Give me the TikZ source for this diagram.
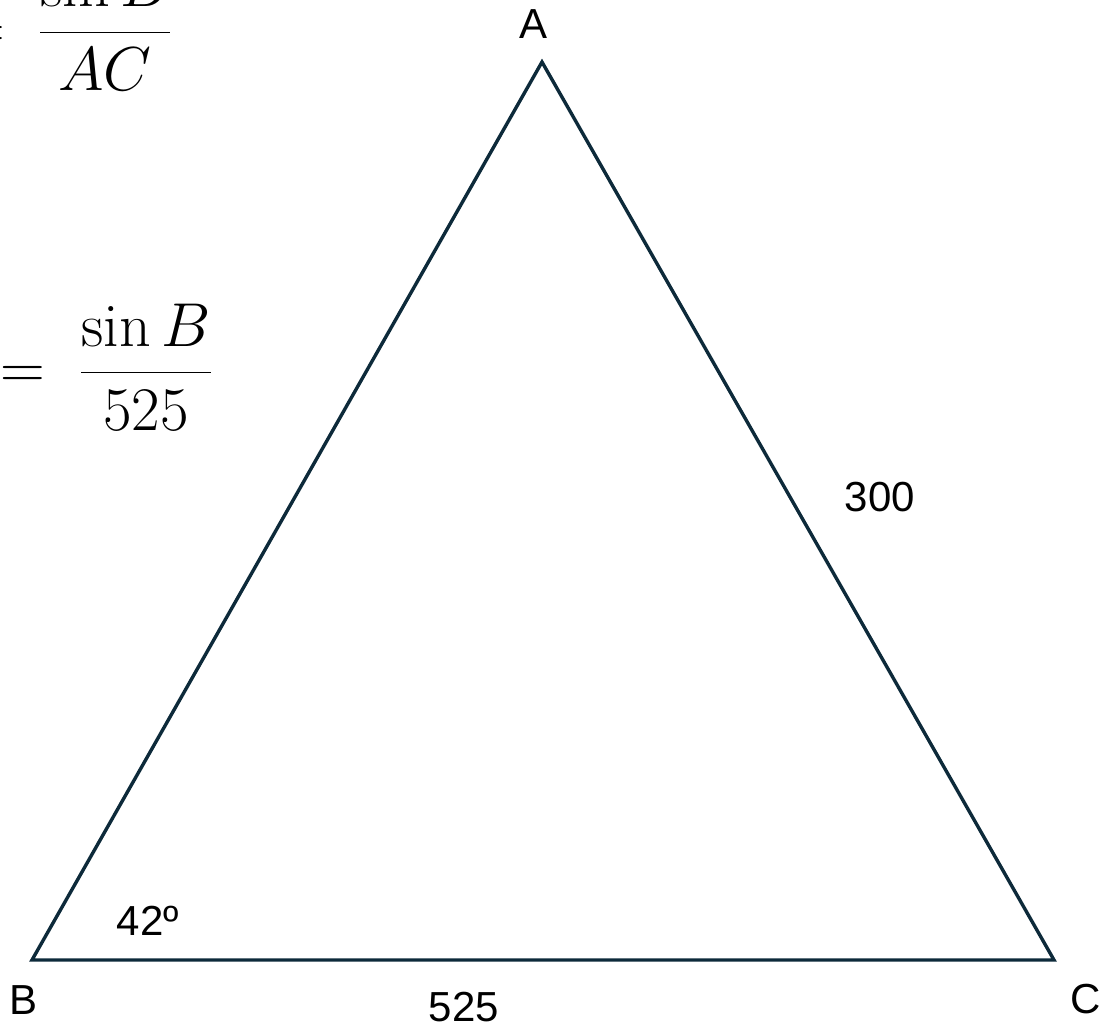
\RequirePackage{fix-cm}
\documentclass[tikz,border=0pt]{standalone}
\usepackage{amsmath}
\usepackage{fontspec}
\setsansfont{Liberation Sans}
\usetikzlibrary{positioning}
\definecolor{navy}{HTML}{0D2A3A}
\tikzset{side/.style={draw=navy,line width=1.7pt},lbl/.style={font=\sffamily\fontsize{21}{25}\selectfont,inner sep=0pt},eq/.style={font=\fontsize{31}{37}\selectfont,inner sep=0pt}}

\begin{document}
\begin{tikzpicture}[x=0.5pt,y=-0.5pt]
\clip (0,0) rectangle (1105,1028);
\coordinate (A) at (542,62);
\coordinate (B) at (32,960);
\coordinate (C) at (1054,960);
\draw[side] (A)--(B)--(C)--cycle;
\node[lbl] (la) at (534,24) {A};
\node[lbl] (lb) at (24,1000) {B};
\node[lbl] (lc) at (1086,999) {C};
\node[lbl] (ac) at (880,497) {300};
\node[lbl] (bc) at (464,1007) {525};
\node[lbl] (angb) at (148,921) {42º};
\node[eq,anchor=base] (f1) at (105,48) {$\displaystyle\frac{\sin B}{AC}$};
\node[eq,anchor=base east] (e1) at (6,48) {$=$};
\node[eq,anchor=base] (f2) at (146,388) {$\displaystyle\frac{\sin B}{525}$};
\node[eq,anchor=base east] (e2) at (46,388) {$=$};
\end{tikzpicture}
\end{document}
